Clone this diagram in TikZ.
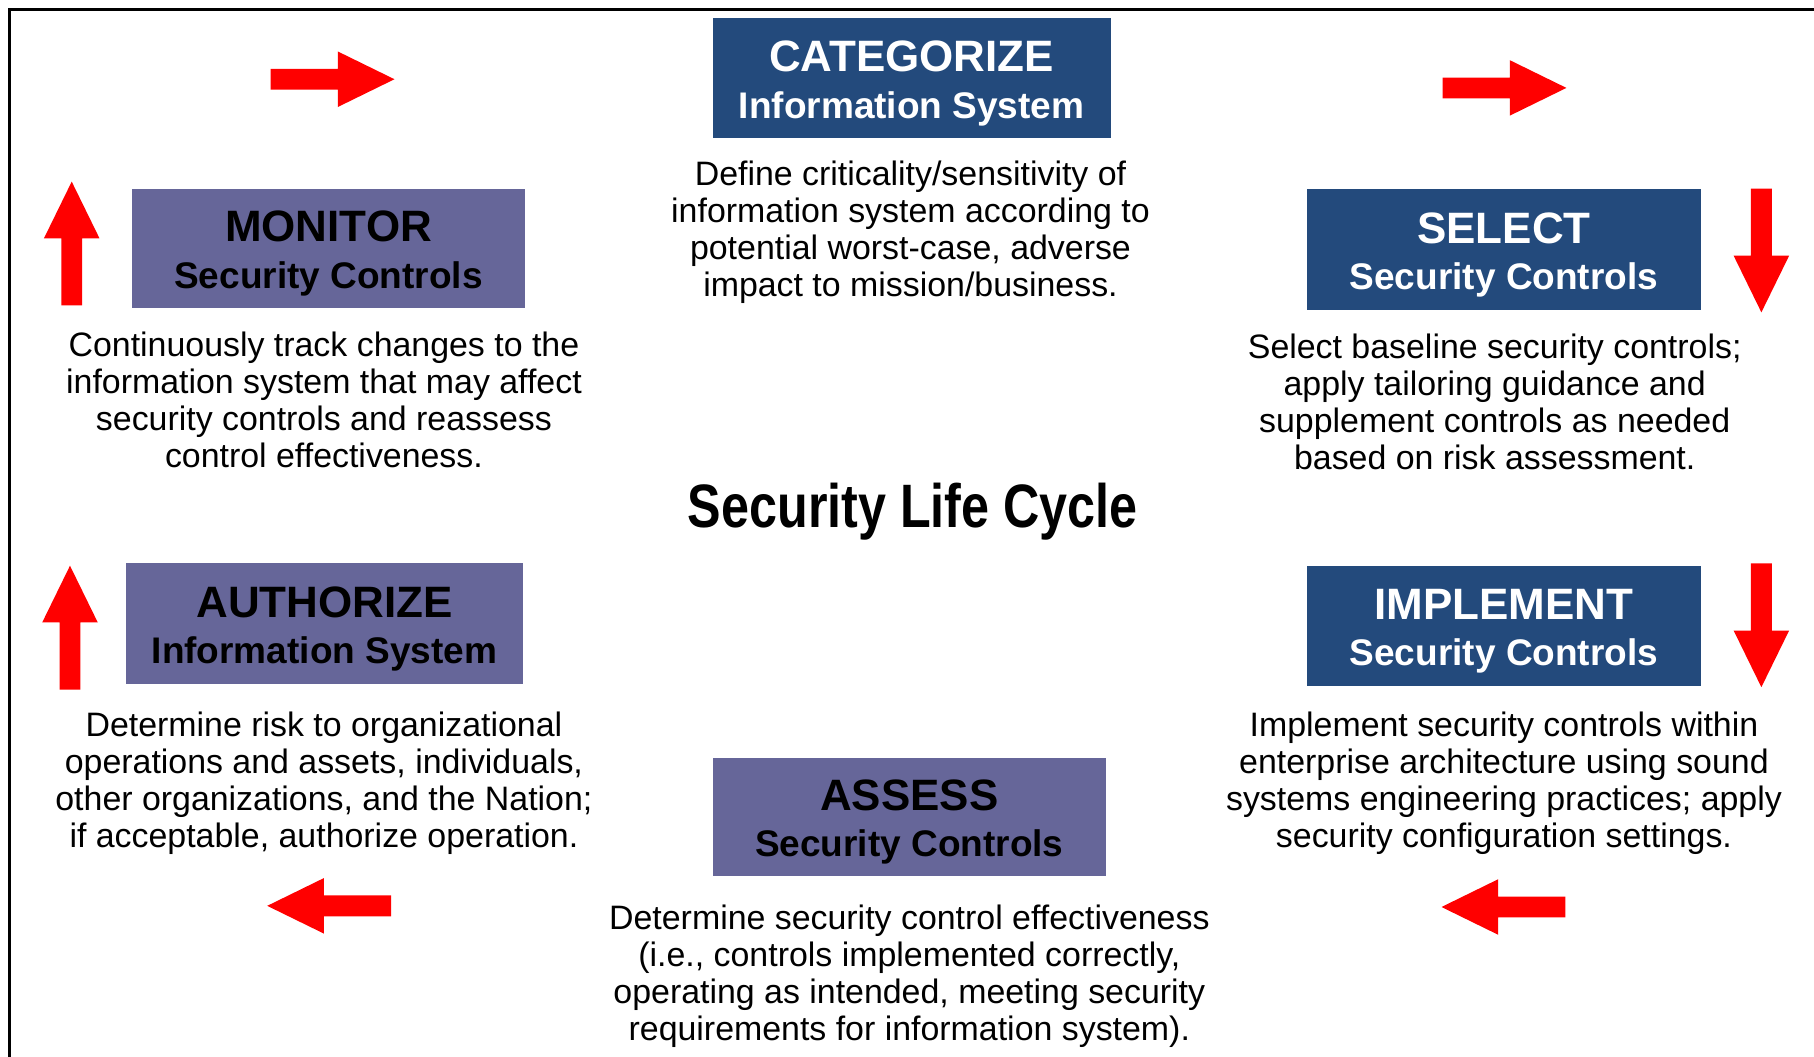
\documentclass[tikz,border=0pt]{standalone}
\usepackage{fontspec}
\setmainfont{Liberation Sans}
\newfontfamily\narrowfont[FakeStretch=0.82]{Liberation Sans}
\definecolor{boxblue}{HTML}{234A7C}
\definecolor{boxpurple}{HTML}{666699}
\definecolor{arrowred}{HTML}{FF0000}
\newcommand{\boxtext}[2]{\rule{0pt}{18pt}{\fontsize{19}{20}\selectfont #1}\\{\fontsize{16}{20}\selectfont #2}}
\tikzset{
  stepboxbase/.style={inner sep=0pt, align=center, font=\bfseries\fontsize{16}{20}\selectfont},
  bluebox/.style={stepboxbase, fill=boxblue, text=white},
  purplebox/.style={stepboxbase, fill=boxpurple, text=black},
  body/.style={align=center, inner sep=0pt, font=\fontsize{14.65}{16}\selectfont},
  blockarrow/.pic={\fill[arrowred] (0,-9) -- (58,-9) -- (58,-24) -- (107,0) -- (58,24) -- (58,9) -- (0,9) -- cycle;}
}
\begin{document}
\begin{tikzpicture}[x=0.5pt, y=-0.5pt]
\useasboundingbox (0,0) rectangle (1568,913);
% frame (top and left edges visible)
\coordinate (fbl) at (8,920);
\coordinate (ftl) at (8,8);
\coordinate (ftr) at (1575,8);
\draw[line width=1.5pt] (fbl) -- (ftl) -- (ftr);

% step boxes
\node[bluebox, minimum width=172pt, minimum height=51.5pt] (cat) at (788,67.5) {\boxtext{CATEGORIZE}{Information System}};
\node[purplebox, minimum width=170pt, minimum height=51.5pt] (mon) at (284,214.5) {\boxtext{MONITOR}{Security Controls}};
\node[bluebox, minimum width=170pt, minimum height=52.5pt] (sel) at (1300,215.5) {\boxtext{SELECT}{Security Controls}};
\node[purplebox, minimum width=171.5pt, minimum height=52pt] (auth) at (280.5,539) {\boxtext{AUTHORIZE}{Information System}};
\node[bluebox, minimum width=170pt, minimum height=52pt] (imp) at (1300,541) {\boxtext{IMPLEMENT}{Security Controls}};
\node[purplebox, minimum width=170pt, minimum height=51pt] (ass) at (786,706) {\boxtext{ASSESS}{Security Controls}};

% descriptions
\node[body] (cattext) at (787,201) {Define criticality/sensitivity of\\information system according to\\potential worst-case, adverse\\impact to mission/business.};
\node[body] (montext) at (280,346) {Continuously track changes to the\\information system that may affect\\security controls and reassess\\control effectiveness.};
\node[body] (seltext) at (1292,347) {Select baseline  security controls;\\apply tailoring guidance and\\supplement controls as needed\\based on risk assessment.};
\node[body] (authtext) at (280,677) {Determine risk to organizational\\operations and assets, individuals,\\other organizations,  and the Nation;\\if acceptable, authorize operation.};
\node[body] (imptext) at (1300,677) {Implement security controls within\\enterprise architecture using sound\\systems engineering practices; apply\\security configuration settings.};
\node[body] (asstext) at (786,844) {Determine security control effectiveness\\(i.e., controls implemented correctly,\\operating as intended, meeting security\\requirements for information system).};

% centre title
\node[inner sep=0pt, font=\narrowfont\bfseries\fontsize{26.5}{30}\selectfont] (title) at (789,442) {Security Life Cycle};

% cycle arrows
\pic at (234,68.5) {blockarrow};
\pic at (1247,76) {blockarrow};
\pic[rotate=-90] at (1522.5,163) {blockarrow};
\pic[rotate=-90] at (1522.5,487) {blockarrow};
\pic[rotate=180] at (1353,784) {blockarrow};
\pic[rotate=180] at (338,783) {blockarrow};
\pic[rotate=90] at (60.5,596) {blockarrow};
\pic[rotate=90] at (62,264) {blockarrow};
\end{tikzpicture}
\end{document}
